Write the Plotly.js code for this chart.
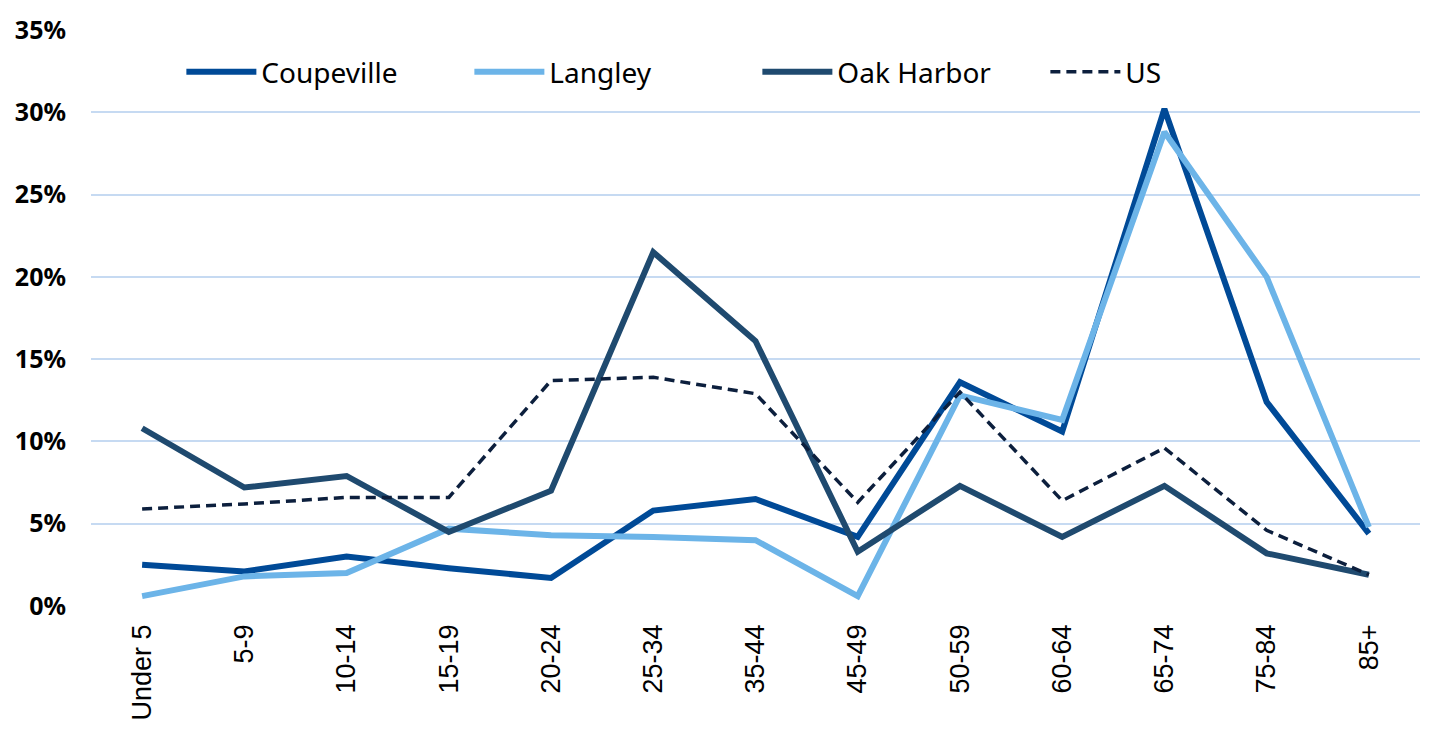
<!DOCTYPE html>
<html>
<head>
<meta charset="utf-8">
<script src="https://cdn.plot.ly/plotly-3.0.1.min.js"></script>
<style>
  html, body { margin: 0; padding: 0; background: #ffffff; }
  #chart { width: 1429px; height: 731px; }
</style>
</head>
<body>
<div id="chart"></div>
<script>
const categories = ['Under 5', '5-9', '10-14', '15-19', '20-24', '25-34', '35-44', '45-49', '50-59', '60-64', '65-74', '75-84', '85+'];
const coupeville = [2.5, 2.1, 3.0, 2.3, 1.7, 5.8, 6.5, 4.2, 13.6, 10.6, 30.2, 12.4, 4.4];
const langley    = [0.6, 1.8, 2.0, 4.7, 4.3, 4.2, 4.0, 0.6, 12.8, 11.3, 28.8, 20.0, 4.8];
const oakHarbor  = [10.8, 7.2, 7.9, 4.5, 7.0, 21.5, 16.1, 3.3, 7.3, 4.2, 7.3, 3.2, 1.9];
const us         = [5.9, 6.2, 6.6, 6.6, 13.7, 13.9, 12.9, 6.3, 13.0, 6.4, 9.6, 4.6, 1.9];
const yTicks = [0, 5, 10, 15, 20, 25, 30, 35];

const traces = [
  { name: 'Coupeville', x: categories, y: coupeville, type: 'scatter', mode: 'lines',
    line: { color: '#004a97', width: 6 } },
  { name: 'Langley', x: categories, y: langley, type: 'scatter', mode: 'lines',
    line: { color: '#6cb4e8', width: 6 } },
  { name: 'Oak Harbor', x: categories, y: oakHarbor, type: 'scatter', mode: 'lines',
    line: { color: '#1f4a6f', width: 6 } },
  { name: 'US', x: categories, y: us, type: 'scatter', mode: 'lines',
    line: { color: '#0c1f3d', width: 3.5, dash: '10px,6px' } }
];

const layout = {
  width: 1429, height: 731,
  margin: { l: 91, r: 9, t: 30, b: 125 },
  paper_bgcolor: '#ffffff', plot_bgcolor: '#ffffff',
  showlegend: true,
  legend: {
    orientation: 'h', x: 0.068, y: 0.927, xanchor: 'left', yanchor: 'middle',
    font: { family: 'Noto Sans, sans-serif', size: 28, color: '#000000' },
    itemwidth: 70, entrywidth: 203, entrywidthmode: 'pixels',
    bgcolor: 'rgba(0,0,0,0)', traceorder: 'normal'
  },
  xaxis: {
    type: 'category', range: [-0.5, 12.5], tickangle: -90,
    showgrid: false, zeroline: false, showline: false, ticks: '',
    tickfont: { family: 'Liberation Sans, Arial, sans-serif', size: 27, color: '#000000' },
    ticklabelstandoff: 12, fixedrange: true
  },
  yaxis: {
    range: [0, 35], tickvals: yTicks, ticktext: yTicks.map(v => v + '%'),
    showgrid: true, gridcolor: '#c6daf2', gridwidth: 2,
    zeroline: false, showline: false, ticks: '',
    tickfont: { family: 'Noto Sans, Open Sans, sans-serif', size: 25, color: '#000000', weight: 'bold' },
    ticklabelstandoff: 24, fixedrange: true
  }
};

Plotly.newPlot('chart', traces, layout, { staticPlot: true, displayModeBar: false });
</script>
</body>
</html>
